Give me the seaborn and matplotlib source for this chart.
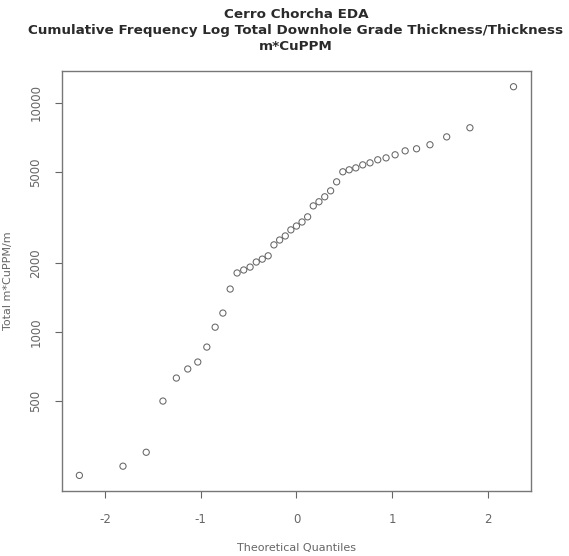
import numpy as np
import pandas as pd
import matplotlib
matplotlib.use("Agg")
import matplotlib.pyplot as plt
import seaborn as sns
from statistics import NormalDist

# Total downhole grade thickness per hole (m*CuPPM/m)
grade_thickness = [
    237, 260, 299, 500, 630, 690, 740, 860, 1050, 1210,
    1540, 1810, 1865, 1920, 2020, 2080, 2150, 2400, 2520, 2625,
    2790, 2900, 3020, 3180, 3550, 3700, 3890, 4130, 4520, 5000,
    5100, 5200, 5360, 5470, 5640, 5750, 5930, 6170, 6300, 6560,
    7100, 7780, 11750,
]
y_ticks = [500, 1000, 2000, 5000, 10000]
x_ticks = [-2, -1, 0, 1, 2]

title_lines = [
    "Cerro Chorcha EDA",
    "Cumulative Frequency Log Total Downhole Grade Thickness/Thickness",
    "m*CuPPM",
]

# Normal Q-Q positions (ppoints with a = 0.5 for n > 10)
vals = np.sort(np.asarray(grade_thickness, dtype=float))
n = len(vals)
probs = (np.arange(1, n + 1) - 0.5) / n
nd = NormalDist()
theo = np.array([nd.inv_cdf(p) for p in probs])
df = pd.DataFrame({"Theoretical Quantiles": theo, "Total m*CuPPM/m": vals})

sns.set_theme(style="white")
plt.rcParams["font.family"] = ["DejaVu Sans"]

fig = plt.figure(figsize=(5.69, 5.56), dpi=100)
ax = fig.add_axes([0.109, 0.117, 0.824, 0.755])

sns.scatterplot(
    data=df, x="Theoretical Quantiles", y="Total m*CuPPM/m", ax=ax,
    marker="o", s=20, facecolor="none", edgecolor="#666666", linewidth=0.75,
)
ax.set_yscale("log")

# R-style 4% padding on both axes
def padded(lo, hi, frac=0.04):
    span = hi - lo
    return lo - frac * span, hi + frac * span

xlo, xhi = padded(theo.min(), theo.max())
ax.set_xlim(xlo, xhi)
llo, lhi = padded(np.log10(vals.min()), np.log10(vals.max()))
ax.set_ylim(10 ** llo, 10 ** lhi)

ax.set_xticks(x_ticks)
ax.set_xticklabels([str(t) for t in x_ticks])
ax.set_yticks(y_ticks)
ax.set_yticklabels([str(t) for t in y_ticks], rotation=90, va="center")
ax.yaxis.set_minor_locator(matplotlib.ticker.NullLocator())

ax.tick_params(axis="both", direction="out", length=5, width=0.8,
               color="#666666", labelsize=8.5, labelcolor="#666666",
               bottom=True, left=True)
ax.tick_params(axis="x", pad=11)
ax.tick_params(axis="y", pad=9)

for sp in ax.spines.values():
    sp.set_visible(True)
    sp.set_color("#777777")
    sp.set_linewidth(1.0)

ax.set_xlabel("Theoretical Quantiles", fontsize=8, color="#666666", labelpad=12)
ax.set_ylabel("Total m*CuPPM/m", fontsize=8, color="#666666", labelpad=12)

fig.text(0.52, 0.986, "\n".join(title_lines), ha="center", va="top",
         fontsize=9.7, fontweight="bold", color="#2a2a2a", linespacing=1.32)

fig.savefig("out.png", dpi=100, facecolor="white")
